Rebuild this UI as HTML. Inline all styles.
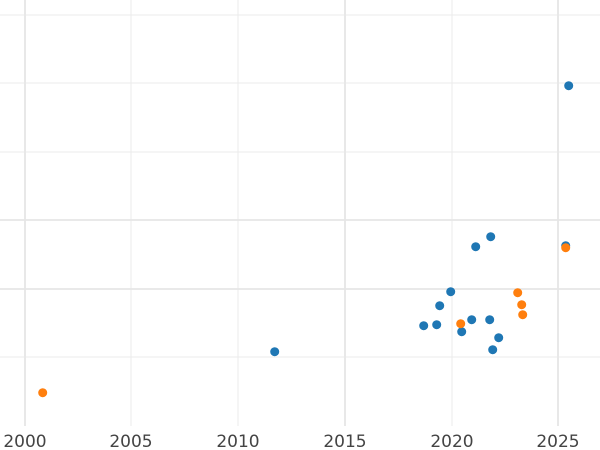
<!DOCTYPE html>
<html><head><style>body{margin:0;background:#fff}svg{display:block}</style></head><body>
<svg width="600" height="450" xmlns="http://www.w3.org/2000/svg">
<g stroke="#ebebeb" stroke-width="1">
<line x1="0" y1="15" x2="600" y2="15"/>
<line x1="0" y1="83" x2="600" y2="83"/>
<line x1="0" y1="152" x2="600" y2="152"/>
<line x1="0" y1="357" x2="600" y2="357"/>
<line x1="131" y1="0" x2="131" y2="426"/>
<line x1="238" y1="0" x2="238" y2="426"/>
<line x1="452" y1="0" x2="452" y2="426"/>
</g>
<g stroke="#e6e6e6" stroke-width="1.8">
<line x1="0" y1="220" x2="600" y2="220"/>
<line x1="0" y1="289" x2="600" y2="289"/>
<line x1="25" y1="0" x2="25" y2="426"/>
<line x1="345" y1="0" x2="345" y2="426"/>
<line x1="558" y1="0" x2="558" y2="426"/>
</g>
<g transform="translate(0.7,0.7)">
<g fill="#1f77b4">
<circle cx="568" cy="85" r="4.5"/><circle cx="490" cy="236" r="4.5"/><circle cx="475" cy="246" r="4.5"/><circle cx="565" cy="245" r="4.5"/>
<circle cx="450" cy="291" r="4.5"/><circle cx="439" cy="305" r="4.5"/><circle cx="423" cy="325" r="4.5"/><circle cx="436" cy="324" r="4.5"/>
<circle cx="471" cy="319" r="4.5"/><circle cx="489" cy="319" r="4.5"/><circle cx="461" cy="331" r="4.5"/><circle cx="498" cy="337" r="4.5"/>
<circle cx="492" cy="349" r="4.5"/><circle cx="274" cy="351" r="4.5"/>
</g>
<g fill="#ff7f0e">
<circle cx="42" cy="392" r="4.5"/><circle cx="460" cy="323" r="4.5"/><circle cx="517" cy="292" r="4.5"/><circle cx="521" cy="304" r="4.5"/>
<circle cx="522" cy="314" r="4.5"/><circle cx="565" cy="247" r="4.5"/>
</g>
</g>
<g font-family="DejaVu Sans, Liberation Sans, sans-serif" font-size="17" fill="#444" text-anchor="middle">
<text x="25" y="447">2000</text><text x="131" y="447">2005</text><text x="238" y="447">2010</text>
<text x="345" y="447">2015</text><text x="452" y="447">2020</text><text x="558" y="447">2025</text>
</g>
</svg>
</body></html>
